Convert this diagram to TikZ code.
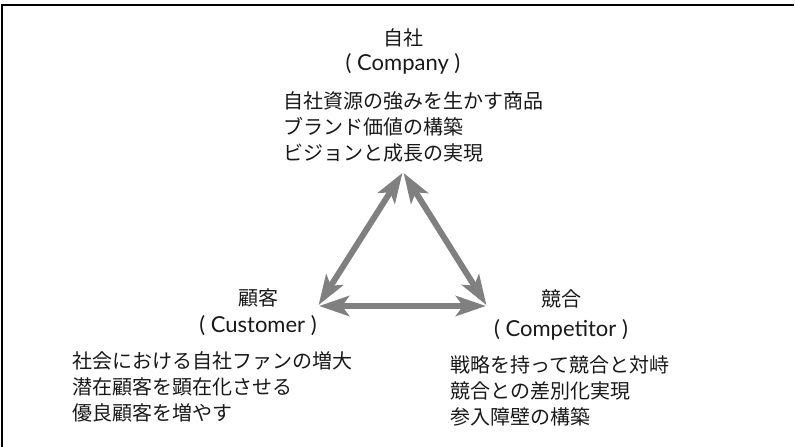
\documentclass[tikz,border=0pt]{standalone}
\usepackage{fontspec}
\setmainfont{Noto Sans CJK JP}
\newfontfamily\latinfont{Lato}
\usetikzlibrary{arrows.meta}
\begin{document}
\begin{tikzpicture}[x=1pt,y=-1pt,
  txt/.style={inner sep=0pt, font=\fontsize{20}{26}\selectfont, text=black!90},
  entxt/.style={inner sep=0pt, font=\latinfont\fontsize{22}{26}\selectfont, text=black!90},
  body/.style={txt, align=left, anchor=west},
  link/.style={draw=black!50, line width=6pt,
    {Stealth[length=30pt,width=20pt,inset=7pt]}-{Stealth[length=30pt,width=20pt,inset=7pt]},
    shorten <=1pt, shorten >=1pt}]
\useasboundingbox (0,0) rectangle (795,447);
\draw[line width=2pt] (2,447) -- (2,5) -- (794,5);
% vertices
\coordinate (vtop) at (403,172);
\coordinate (vleft) at (318,306);
\coordinate (vright) at (487,306);
% arrows
\draw[link] (vleft) -- (vtop);
\draw[link] (vtop) -- (vright);
\draw[link] (vleft) -- (vright);
% company
\node[txt] (cotitle) at (403,38) {自社};
\node[entxt] (coen) at (403,64) {( Company )};
\node[body] (cobody) at (283,127) {自社資源の強みを生かす商品\\ブランド価値の構築\\ビジョンと成長の実現};
% customer
\node[txt] (cutitle) at (258,298) {顧客};
\node[entxt] (cuen) at (258,326) {( Customer )};
\node[body] (cubody) at (72,387) {社会における自社ファンの増大\\潜在顧客を顕在化させる\\優良顧客を増やす};
% competitor
\node[txt] (cptitle) at (561,299) {競合};
\node[entxt] (cpen) at (561,330) {( Competitor )};
\node[body] (cpbody) at (450,391) {戦略を持って競合と対峙\\競合との差別化実現\\参入障壁の構築};
\end{tikzpicture}
\end{document}
